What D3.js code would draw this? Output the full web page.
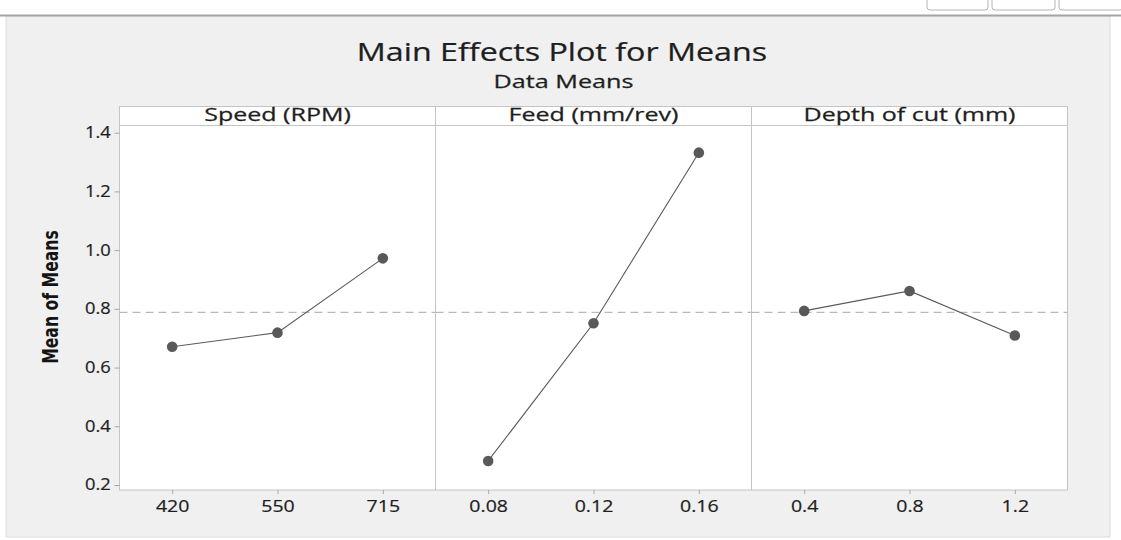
<!DOCTYPE html>
<html>
<head>
<meta charset="utf-8">
<script src="https://cdn.jsdelivr.net/npm/d3@7"></script>
<style>
  html, body { margin: 0; padding: 0; background: #ffffff; }
  svg { display: block; }
  text { font-family: "Open Sans", "Noto Sans", sans-serif; fill: #1e1e1e; }
</style>
</head>
<body>
<div id="chart"></div>
<script>
// Data
const factors = ["Speed (RPM)", "Feed (mm/rev)", "Depth of cut (mm)"];
const speedLevels = ["420", "550", "715"];
const speedMeans = [0.671, 0.719, 0.972];
const feedLevels = ["0.08", "0.12", "0.16"];
const feedMeans = [0.282, 0.751, 1.332];
const depthLevels = ["0.4", "0.8", "1.2"];
const depthMeans = [0.793, 0.861, 0.709];
const grandMean = 0.788;
const yTicks = [0.2, 0.4, 0.6, 0.8, 1.0, 1.2, 1.4];

const panels = [
    { name: factors[0], levels: speedLevels, means: speedMeans },
    { name: factors[1], levels: feedLevels, means: feedMeans },
    { name: factors[2], levels: depthLevels, means: depthMeans }
];

// Layout
const W = 1121, H = 540;
const plotLeft = 119.5, panelW = 316;
const stripTop = 106.5, plotTop = 125.5, plotBottom = 490;

const svg = d3.select("#chart")
    .append("svg")
    .attr("width", W)
    .attr("height", H);

// window frame
svg.append("rect").attr("x", 0).attr("y", 0).attr("width", W).attr("height", H).attr("fill", "#ffffff");
svg.append("rect")
    .attr("x", 6).attr("y", 16).attr("width", 1104).attr("height", 521)
    .attr("fill", "#f0f0f0").attr("stroke", "#dcdcdc");
svg.append("line")
    .attr("x1", 0).attr("x2", W).attr("y1", 15.5).attr("y2", 15.5)
    .attr("stroke", "#a4a4a4").attr("stroke-width", 2);
[[927, 61], [992, 63], [1059, 64]].forEach(([bx, bw]) => {
    svg.append("rect")
        .attr("x", bx).attr("y", -6).attr("width", bw).attr("height", 16).attr("rx", 3)
        .attr("fill", "#ffffff").attr("stroke", "#b4b4b4");
});

// the source image is stretched sideways, so text gets a horizontal scale
const addText = (x, y, str, size, sx) => {
    return svg.append("text")
        .attr("transform", `translate(${x},${y}) scale(${sx},1)`)
        .attr("text-anchor", "middle")
        .style("font-size", size + "px")
        .style("stroke", "#1e1e1e")
        .style("stroke-width", 0.25)
        .text(str);
};

// Titles
addText(562, 60.5, "Main Effects Plot for Means", 25.5, 1.265);
addText(563.5, 88, "Data Means", 18, 1.4);

// Y scale shared by all panels
const yScale = d3.scaleLinear().domain([0.2, 1.4]).range([485, 132.7]);

const line = d3.line();

panels.forEach((p, i) => {
    const x0 = plotLeft + i * panelW;
    const xScale = d3.scalePoint().domain(p.levels).range([x0, x0 + panelW]).padding(0.5);

    // strip + plot area
    svg.append("rect")
        .attr("x", x0).attr("y", stripTop).attr("width", panelW).attr("height", plotTop - stripTop)
        .attr("fill", "#ffffff").attr("stroke", "#c4c4c4");
    svg.append("rect")
        .attr("x", x0).attr("y", plotTop).attr("width", panelW).attr("height", plotBottom - plotTop)
        .attr("fill", "#ffffff").attr("stroke", "#c4c4c4");
    addText(x0 + panelW / 2, 121, p.name, 18, 1.39);

    // grand mean reference line
    svg.append("line")
        .attr("x1", x0).attr("x2", x0 + panelW)
        .attr("y1", yScale(grandMean)).attr("y2", yScale(grandMean))
        .attr("stroke", "#b8b8b8").attr("stroke-width", 1.2)
        .attr("stroke-dasharray", "8,5");

    // x axis
    const xAxis = svg.append("g")
        .attr("transform", `translate(0,${plotBottom})`)
        .call(d3.axisBottom(xScale).tickSize(4).tickPadding(7));
    xAxis.select(".domain").remove();
    xAxis.selectAll("line").attr("stroke", "#a8a8a8");
    xAxis.selectAll("text")
        .attr("fill", "#1e1e1e")
        .style("font-size", "15.5px")
        .style("font-family", "'Open Sans', sans-serif")
        .style("stroke", "#1e1e1e")
        .style("stroke-width", 0.2)
        .attr("transform", "scale(1.26,1)");

    // effect line and points
    const pts = p.levels.map((lv, j) => [xScale(lv), yScale(p.means[j])]);
    svg.append("path")
        .attr("d", line(pts))
        .attr("fill", "none")
        .attr("stroke", "#5a5a5a")
        .attr("stroke-width", 1.1);
    svg.selectAll(null)
        .data(pts)
        .join("circle")
        .attr("cx", d => d[0])
        .attr("cy", d => d[1])
        .attr("r", 5.3)
        .attr("fill", "#595959");
});

// y axis
const yAxis = svg.append("g")
    .attr("transform", `translate(${plotLeft},0)`)
    .call(d3.axisLeft(yScale).tickValues(yTicks).tickFormat(d3.format(".1f")).tickSize(5).tickPadding(2.5));
yAxis.select(".domain").remove();
yAxis.selectAll("line").attr("stroke", "#a8a8a8");
yAxis.selectAll("text")
    .attr("fill", "#1e1e1e")
    .style("font-size", "15.5px")
    .style("font-family", "'Open Sans', sans-serif")
    .style("stroke", "#1e1e1e")
    .style("stroke-width", 0.2)
    .attr("transform", "scale(1.18,1)");

// y axis title (tall, condensed)
svg.append("text")
    .attr("transform", `translate(58,297) rotate(-90) scale(0.83,1)`)
    .attr("text-anchor", "middle")
    .style("font-family", "'Liberation Sans Narrow', 'DejaVu Sans Condensed', sans-serif")
    .style("font-weight", "bold")
    .style("font-size", "21px")
    .style("fill", "#141414")
    .text("Mean of Means");
</script>
</body>
</html>
